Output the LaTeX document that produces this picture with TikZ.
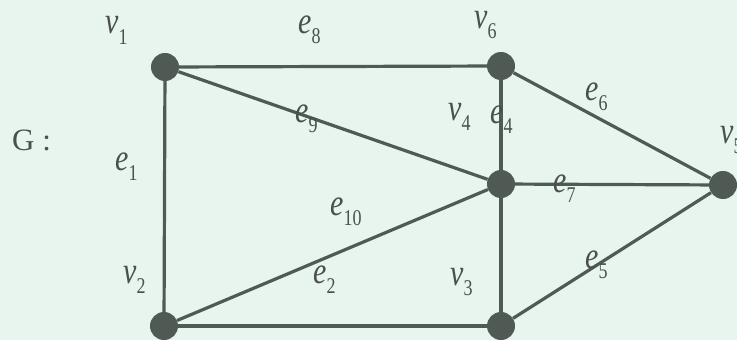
\documentclass[tikz,border=0pt]{standalone}
\usepackage{graphicx}
\usepackage{fontspec}
\setmainfont{Liberation Serif}
\definecolor{bg}{HTML}{E8F4EE}
\definecolor{ink}{HTML}{4F5A54}
\definecolor{txt}{HTML}{4A504C}
\newcommand\gl[2]{\scalebox{1}[1.25]{\fontsize{30}{30}\selectfont\textit{#1}\raisebox{-0.28em}{\fontsize{18}{18}\selectfont #2}}}
\tikzset{
  vert/.style={circle,fill=ink,minimum size=28pt,inner sep=0pt},
  edge/.style={draw=ink,line width=3.2pt},
  lbl/.style={text=txt,inner sep=0pt,anchor=base west}
}
\begin{document}
\begin{tikzpicture}[x=1pt,y=-1pt]
\fill[bg] (0,0) rectangle (737,340);
\useasboundingbox (0,0) rectangle (737,340);
\node[vert] (v1) at (165,67) {};
\node[vert] (v6) at (501,66) {};
\node[vert] (v4) at (501,184) {};
\node[vert] (v5) at (723,185) {};
\node[vert] (v2) at (164,326) {};
\node[vert] (v3) at (501,326) {};
\draw[edge] (v1) -- (v6);
\draw[edge] (v1) -- (v2);
\draw[edge] (v1) -- (v4);
\draw[edge] (v2) -- (v4);
\draw[edge] (v2) -- (v3);
\draw[edge] (v6) -- (v4);
\draw[edge] (v4) -- (v3);
\draw[edge] (v6) -- (v5);
\draw[edge] (v4) -- (v5);
\draw[edge] (v3) -- (v5);
\node[lbl] (G) at (12,150) {\fontsize{31}{31}\selectfont G :};
\node[lbl] (lv1) at (105,34) {\gl{v}{1}};
\node[lbl] (le8) at (298,33) {\gl{e}{8}};
\node[lbl] (lv6) at (474,28) {\gl{v}{6}};
\node[lbl] (le9) at (295,122) {\gl{e}{9}};
\node[lbl] (lv4) at (448,120) {\gl{v}{4}};
\node[lbl] (le4) at (490,123) {\gl{e}{4}};
\node[lbl] (le6) at (585,100) {\gl{e}{6}};
\node[lbl] (lv5) at (720,143) {\gl{v}{5}};
\node[lbl] (le1) at (115,170) {\gl{e}{1}};
\node[lbl] (le10) at (330,215) {\gl{e}{10}};
\node[lbl] (le2) at (313,283) {\gl{e}{2}};
\node[lbl] (lv2) at (123,283) {\gl{v}{2}};
\node[lbl] (lv3) at (450,285) {\gl{v}{3}};
\node[lbl] (le7) at (553,192) {\gl{e}{7}};
\node[lbl] (le5) at (585,268) {\gl{e}{5}};
\end{tikzpicture}
\end{document}
